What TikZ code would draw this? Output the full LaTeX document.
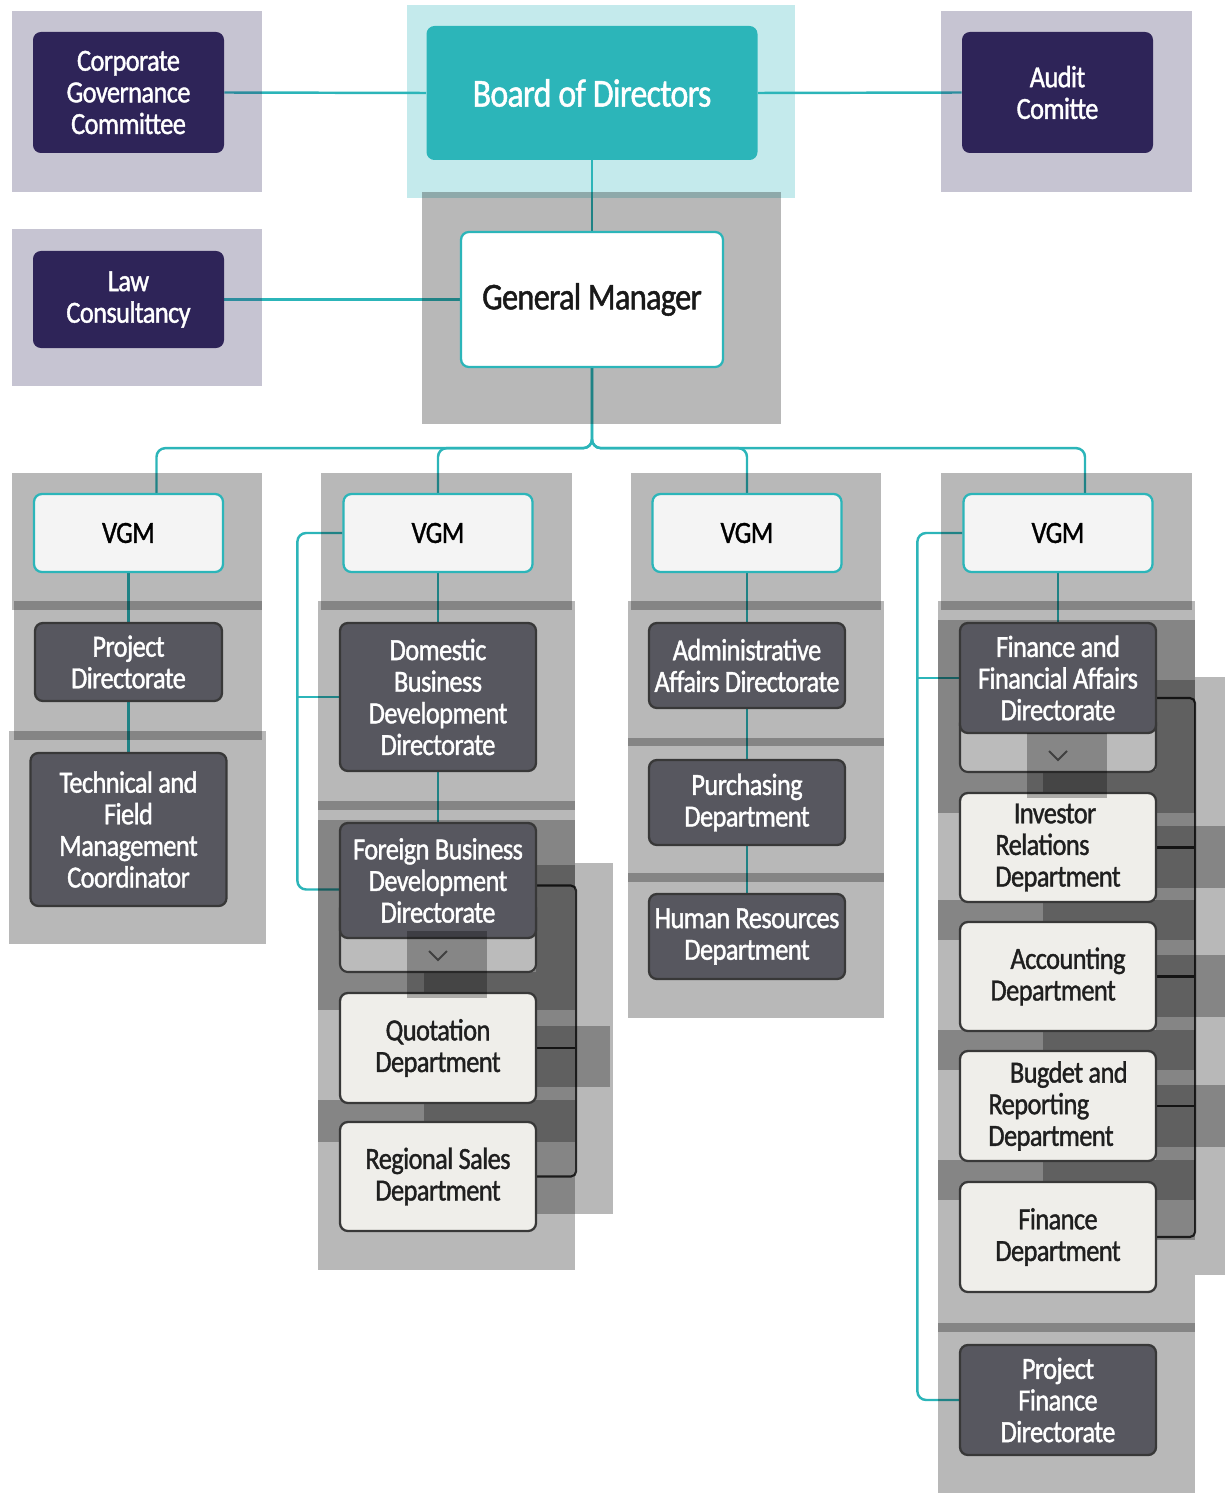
\documentclass[tikz,border=0pt]{standalone}
\usepackage{fontspec}
\setmainfont[FakeStretch=0.86,LetterSpace=-2,FakeBold=1.2]{Carlito}
\pgfdeclarelayer{links}
\pgfdeclarelayer{shades}
\pgfsetlayers{links,shades,main}

\definecolor{navy}{HTML}{2E2458}
\definecolor{orgteal}{HTML}{2CB5B9}
\definecolor{darkbox}{HTML}{57575F}
\definecolor{darkedge}{HTML}{383838}
\definecolor{lightbox}{HTML}{EFEEEA}
\definecolor{vgmfill}{HTML}{F4F4F4}
\definecolor{tabfill}{HTML}{BBBBBB}

\tikzset{
  unit/.style 2 args={minimum width=#1*0.02cm, minimum height=#2*0.02cm},
  anybox/.style={rounded corners=4.5pt, inner sep=0pt, align=center,
    font=\fontsize{17.5}{18}\selectfont},
  navybox/.style={anybox, fill=navy, text=white},
  boardbox/.style={anybox, fill=orgteal, text=white, font=\fontsize{22.5}{24}\selectfont},
  gmbox/.style={anybox, fill=white, draw=orgteal, line width=1.3pt,
    text=black!90, font=\fontsize{21.5}{23}\selectfont},
  vgmbox/.style={anybox, fill=vgmfill, draw=orgteal, line width=1.3pt, text=black},
  dirbox/.style={anybox, fill=darkbox, draw=darkedge, line width=1.3pt, text=white},
  deptbox/.style={anybox, fill=lightbox, draw=darkedge, line width=1.3pt, text=black!88},
  link/.style={draw=orgteal, line width=1.4pt},
  bracket/.style={draw=darkedge, line width=1.2pt, rounded corners=3pt},
  shade/.style={fill=black, fill opacity=0.28},
  lilac/.style={fill=navy, fill opacity=0.27},
  aqua/.style={fill=orgteal, fill opacity=0.28},
  tab/.style={fill=tabfill, draw=darkedge, line width=1.2pt, rounded corners=4.5pt},
  chev/.style={draw=black!75, line width=1.1pt}
}

\begin{document}
\begin{tikzpicture}[x=0.02cm, y=-0.02cm]
\useasboundingbox (0,0) rectangle (1225,1493);

% Top of the chart
\node[navybox, unit={191}{121}] (cgc) at (128.5,92.5) {Corporate\\Governance\\Committee};
\node[navybox, unit={191}{121}] (audit) at (1057.5,92.5) {Audit\\Comitte};
\node[navybox, unit={191}{97}] (law) at (128.5,299.5) {Law\\Consultancy};
\node[boardbox, unit={331}{134}] (board) at (592,93) {Board of Directors};
\node[gmbox, unit={262}{135}] (gm) at (592,299.5) {General Manager};

% VGM row
\node[vgmbox, unit={189}{78}] (vgm1) at (128.5,533) {VGM};
\node[vgmbox, unit={189}{78}] (vgm2) at (438,533) {VGM};
\node[vgmbox, unit={189}{78}] (vgm3) at (747,533) {VGM};
\node[vgmbox, unit={189}{78}] (vgm4) at (1058,533) {VGM};

% First column
\node[dirbox, unit={187}{78}] (pdir) at (128.5,662) {Project\\Directorate};
\node[dirbox, unit={196}{153}] (tech) at (128.5,829.5) {Technical and\\Field\\Management\\Coordinator};

% Second column
\node[dirbox, unit={196}{148}] (dom) at (438,697) {Domestic\\Business\\Development\\Directorate};
\draw[tab] (340,900) rectangle (536,972);
\node[dirbox, unit={196}{115}] (forn) at (438,880.5) {Foreign Business\\Development\\Directorate};
\node[deptbox, unit={196}{110}] (quot) at (438,1048) {Quotation\\Department};
\node[deptbox, unit={196}{109}] (rsales) at (438,1176.5) {Regional Sales\\Department};

% Third column
\node[dirbox, unit={196}{85}] (admin) at (747,665.5) {Administrative\\Affairs Directorate};
\node[dirbox, unit={196}{85}] (purch) at (747,802.5) {Purchasing\\Department};
\node[dirbox, unit={196}{85}] (hr) at (747,936.5) {Human Resources\\Department};

% Fourth column
\draw[tab] (960,715) rectangle (1156,772);
\node[dirbox, unit={196}{110}] (ffa) at (1058,678) {Finance and\\Financial Affairs\\Directorate};
\node[deptbox, unit={196}{109}, align=left] (inv) at (1058,847.5) {\hspace*{0.6em}Investor\\Relations\\Department};
\node[deptbox, unit={196}{109}, align=left] (acc) at (1058,976.5) {\hspace*{0.65em}Accounting\\Department};
\node[deptbox, unit={196}{110}, align=left] (bud) at (1058,1106) {\hspace*{0.7em}Bugdet and\\Reporting\\Department};
\node[deptbox, unit={196}{110}] (fdep) at (1058,1237) {Finance\\Department};
\node[dirbox, unit={196}{110}] (pfin) at (1058,1400) {Project\\Finance\\Directorate};

% Collapse markers
\fill[shade] (407,931) rectangle (487,998);
\draw[chev] (429,951) -- (438,960) -- (447,951);
\fill[shade] (1027,733) rectangle (1107,798);
\draw[chev] (1049,751) -- (1058,760) -- (1067,751);

\begin{pgfonlayer}{links}
\draw[link] (cgc.east) -- (board.west);
\draw[link] (board.east) -- (audit.west);
\draw[link] (law.east) -- (gm.west);
\draw[link] (board.south) -- (gm.north);
\path (gm.south) ++(0,80) coordinate (bus);
\foreach \v/\dx in {vgm1/0.56,vgm2/0,vgm3/0,vgm4/0.54}
  \draw[link, rounded corners=5pt] (gm.south) -- (bus) -| ([xshift=\dx cm]\v.north);
\draw[link] (vgm1.south) -- (pdir.north);
\draw[link] (pdir.south) -- (tech.north);
\draw[link] (vgm2.south) -- (dom.north);
\draw[link] (dom.south) -- (forn.north);
\draw[link, rounded corners=5pt] (vgm2.west) -- ++(-45,0) |- ([yshift=-0.18cm]forn.west);
\draw[link] (dom.west) -- ++(-42,0);
\draw[link] (vgm3.south) -- (admin.north);
\draw[link] (admin.south) -- (purch.north);
\draw[link] (purch.south) -- (hr.north);
\draw[link] (vgm4.south) -- (ffa.north);
\draw[link, rounded corners=5pt] (vgm4.west) -- ++(-45,0) |- (pfin.west);
\draw[link] (ffa.west) -- ++(-42,0);
\draw[bracket] ([yshift=-0.1cm]forn.east) -- ++(39,0) |- (rsales.east);
\draw[bracket] (quot.east) -- ++(39,0);
\draw[bracket] ([yshift=-0.4cm]ffa.east) -- ++(38,0) |- (fdep.east);
\foreach \d in {inv,acc,bud}
  \draw[bracket] (\d.east) -- ++(38,0);
\end{pgfonlayer}

\begin{pgfonlayer}{shades}
\fill[lilac] (12,11) rectangle (262,192);
\fill[lilac] (941,11) rectangle (1192,192);
\fill[lilac] (12,229) rectangle (262,386);
\fill[aqua] (407,5) rectangle (795,198);
\fill[shade] (422,192) rectangle (781,424);
% column 1
\fill[shade] (12,473) rectangle (262,610);
\fill[shade] (14,601) rectangle (262,740);
\fill[shade] (9,731) rectangle (266,944);
% column 2
\fill[shade] (321,473) rectangle (572,610);
\fill[shade] (318,601) rectangle (575,810);
\fill[shade] (318,801) rectangle (575,1270);
\fill[shade] (318,820) rectangle (575,972);
\fill[shade] (318,972) rectangle (575,1010);
\fill[shade] (424,972) rectangle (536,1010);
\fill[shade] (318,1100) rectangle (575,1142);
\fill[shade] (424,1100) rectangle (536,1142);
\fill[shade] (536,865) rectangle (575,1214);
\fill[shade] (575,863) rectangle (613,1214);
\fill[shade] (536,1026) rectangle (610,1087);
% column 3
\fill[shade] (631,473) rectangle (881,610);
\fill[shade] (628,601) rectangle (884,746);
\fill[shade] (628,738) rectangle (884,882);
\fill[shade] (628,873) rectangle (884,1018);
% column 4
\fill[shade] (941,473) rectangle (1192,610);
\fill[shade] (938,601) rectangle (1195,1493);
\fill[shade] (938,620) rectangle (1195,770);
\foreach \ya/\yb in {770/813,900/940,1030/1070,1160/1200} {
  \fill[shade] (938,\ya) rectangle (1195,\yb);
  \fill[shade] (1043,\ya) rectangle (1156,\yb);
}
\fill[shade] (1156,680) rectangle (1195,1240);
\fill[shade] (1195,677) rectangle (1225,1275);
\foreach \j in {848,977,1107}
  \fill[shade] (1156,\j-22) rectangle (1225,\j+40);
\fill[shade] (938,1323) rectangle (1195,1332);
\end{pgfonlayer}
\end{tikzpicture}
\end{document}
